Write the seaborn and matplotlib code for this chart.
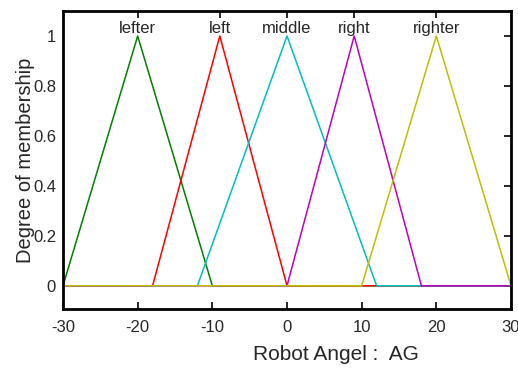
import numpy as np
import pandas as pd
import matplotlib
matplotlib.use("Agg")
import matplotlib.pyplot as plt
import seaborn as sns

# Data: triangular membership functions (breakpoints)
names = ["lefter", "left", "middle", "right", "righter"]
lefter_x = [-30, -20, -10, 30]
lefter_y = [0, 1, 0, 0]
left_x = [-30, -18, -9, 0, 30]
left_y = [0, 0, 1, 0, 0]
middle_x = [-30, -12, 0, 12, 30]
middle_y = [0, 0, 1, 0, 0]
right_x = [-30, 0, 9, 18, 30]
right_y = [0, 0, 1, 0, 0]
righter_x = [-30, 10, 20, 30]
righter_y = [0, 0, 1, 0]
peaks = [-20, -9, 0, 9, 20]
xticks = [-30, -20, -10, 0, 10, 20, 30]
yticks = [0, 0.2, 0.4, 0.6, 0.8, 1]
colors = ["#008000", "#ff0000", "#00bfbf", "#bf00bf", "#bfbf00"]

series = [(lefter_x, lefter_y), (left_x, left_y), (middle_x, middle_y),
          (right_x, right_y), (righter_x, righter_y)]

sns.set_style("white")
plt.rcParams['font.family'] = ['Liberation Sans', 'DejaVu Sans']

fig = plt.figure(figsize=(5.18, 3.71), dpi=100)
ax = fig.add_axes([63/518, 1 - 309/371, (511-63)/518, (309-11)/371])

for (xs, ys), c, n in zip(series, colors, names):
    df = pd.DataFrame({"x": xs, "y": ys})
    sns.lineplot(data=df, x="x", y="y", ax=ax, color=c, linewidth=1.1,
                 estimator=None, sort=False)

ax.set_xlim(-30, 30)
ax.set_ylim(-0.093, 1.1)
ax.set_xticks(xticks)
ax.set_xticklabels([str(t) for t in xticks], fontsize=12)
ax.set_yticks(yticks)
ax.set_yticklabels(["0", "0.2", "0.4", "0.6", "0.8", "1"], fontsize=12)
ax.tick_params(direction="in", length=5, width=1.2, top=False, right=True,
               pad=8, color="black")
ax.tick_params(axis="y", pad=5)
for s in ax.spines.values():
    s.set_linewidth(2)
    s.set_color("black")

ax.set_xlabel("Robot Angel :  AG", fontsize=15)
ax.xaxis.set_label_coords(0.61, -0.12)
ax.set_ylabel("Degree of membership", fontsize=14.5)
ax.yaxis.set_label_coords(-0.062, 0.5)

ax2 = ax.twiny()
ax2.set_xlim(-30, 30)
ax2.set_xticks(peaks)
ax2.set_xticklabels(names, fontsize=12)
ax2.tick_params(direction="in", length=5, width=1.2, pad=-18, color="black")
for s in ax2.spines.values():
    s.set_visible(False)

fig.savefig("out.png", dpi=100)
